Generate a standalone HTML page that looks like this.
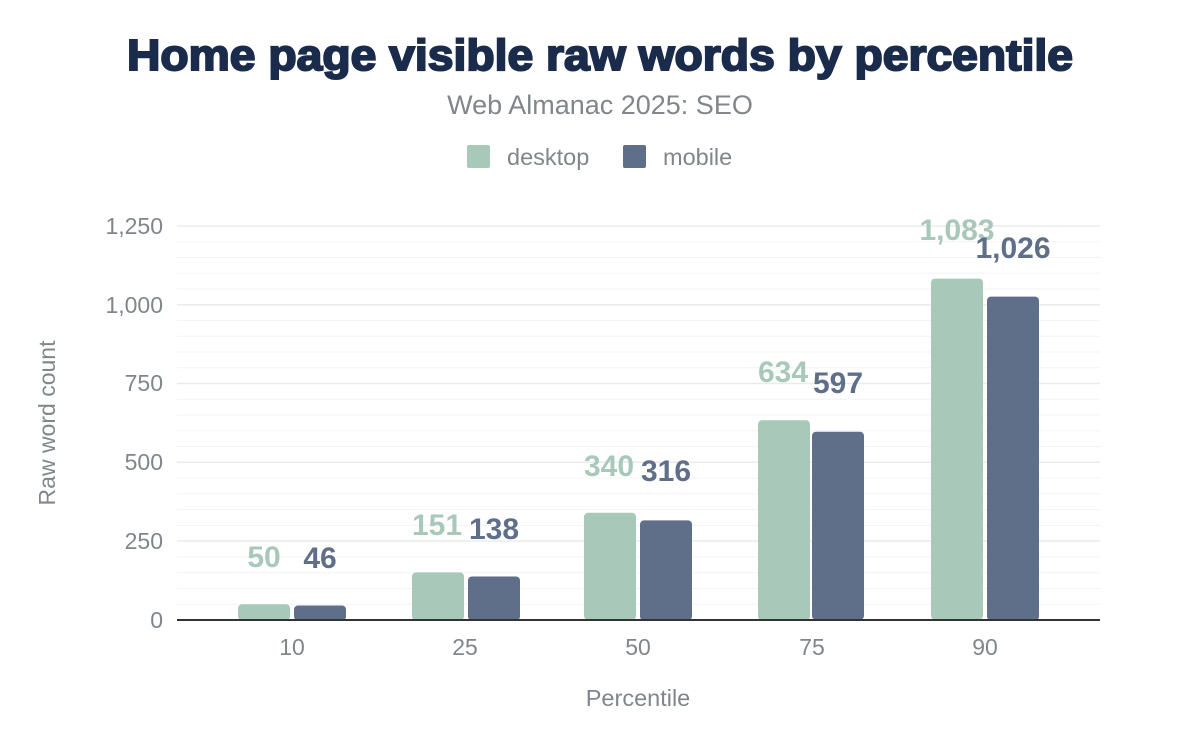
<!DOCTYPE html>
<html><head><meta charset="utf-8"><style>
html,body{margin:0;padding:0;background:#fff;}
svg{display:block;font-family:"Liberation Sans",Arial,sans-serif;}
</style></head><body>
<svg width="1200" height="742" viewBox="0 0 1200 742" xmlns="http://www.w3.org/2000/svg">
<rect width="1200" height="742" fill="#fff"/>
<text x="127" y="70" textLength="946" lengthAdjust="spacingAndGlyphs" font-size="44" font-weight="bold" fill="#1a2b4b" stroke="#1a2b4b" stroke-width="2">Home page visible raw words by percentile</text>
<text x="600" y="114" text-anchor="middle" font-size="27" fill="#80868b">Web Almanac 2025: SEO</text>
<rect x="467" y="145" width="23" height="23" rx="2" fill="#a8c9b9"/>
<text x="507" y="165" font-size="23.5" fill="#80868b">desktop</text>
<rect x="623" y="145" width="23" height="23" rx="2" fill="#5f6f8a"/>
<text x="663" y="165" font-size="23.5" fill="#80868b">mobile</text>
<g stroke="#f3f3f3" stroke-width="1">
<line x1="177" x2="1100" y1="604.2" y2="604.2"/><line x1="177" x2="1100" y1="588.5" y2="588.5"/><line x1="177" x2="1100" y1="572.7" y2="572.7"/><line x1="177" x2="1100" y1="556.9" y2="556.9"/>
<line x1="177" x2="1100" y1="525.4" y2="525.4"/><line x1="177" x2="1100" y1="509.6" y2="509.6"/><line x1="177" x2="1100" y1="493.9" y2="493.9"/><line x1="177" x2="1100" y1="478.1" y2="478.1"/>
<line x1="177" x2="1100" y1="446.6" y2="446.6"/><line x1="177" x2="1100" y1="430.8" y2="430.8"/><line x1="177" x2="1100" y1="415.0" y2="415.0"/><line x1="177" x2="1100" y1="399.3" y2="399.3"/>
<line x1="177" x2="1100" y1="367.8" y2="367.8"/><line x1="177" x2="1100" y1="352.0" y2="352.0"/><line x1="177" x2="1100" y1="336.2" y2="336.2"/><line x1="177" x2="1100" y1="320.5" y2="320.5"/>
<line x1="177" x2="1100" y1="288.9" y2="288.9"/><line x1="177" x2="1100" y1="273.2" y2="273.2"/><line x1="177" x2="1100" y1="257.4" y2="257.4"/><line x1="177" x2="1100" y1="241.7" y2="241.7"/>
</g>
<g stroke="#ebebeb" stroke-width="1.5">
<line x1="177" x2="1100" y1="541" y2="541"/><line x1="177" x2="1100" y1="462.3" y2="462.3"/><line x1="177" x2="1100" y1="383.5" y2="383.5"/><line x1="177" x2="1100" y1="304.7" y2="304.7"/><line x1="177" x2="1100" y1="226" y2="226"/>
</g>
<g font-size="23" fill="#80868b" text-anchor="end">
<text x="163" y="628">0</text><text x="163" y="549">250</text><text x="163" y="470">500</text><text x="163" y="391">750</text><text x="163" y="313">1,000</text><text x="163" y="234">1,250</text>
</g>
<text transform="translate(55,423) rotate(-90)" text-anchor="middle" font-size="23" fill="#80868b">Raw word count</text>
<g fill="#a8c9b9">
<rect x="238" y="604.2" width="52" height="16" rx="4"/>
<rect x="412" y="572.4" width="52" height="48" rx="4"/>
<rect x="584" y="512.8" width="52" height="107" rx="4"/>
<rect x="758" y="420.2" width="52" height="200" rx="4"/>
<rect x="931" y="278.6" width="52" height="341" rx="4"/>
</g>
<g fill="#5f6f8a">
<rect x="294" y="605.5" width="52" height="15" rx="4"/>
<rect x="468" y="576.5" width="52" height="44" rx="4"/>
<rect x="640" y="520.4" width="52" height="100" rx="4"/>
<rect x="812" y="431.8" width="52" height="188" rx="4"/>
<rect x="987" y="296.6" width="52" height="324" rx="4"/>
</g>
<line x1="177" x2="1100" y1="620" y2="620" stroke="#333" stroke-width="2"/>
<g font-size="30" font-weight="bold" text-anchor="middle" fill="#a8c9b9">
<text x="264" y="567">50</text><text x="437" y="535">151</text><text x="609" y="476">340</text><text x="783" y="382">634</text><text x="957" y="240">1,083</text>
</g>
<g font-size="30" font-weight="bold" text-anchor="middle" fill="#5f6f8a">
<text x="320" y="568">46</text><text x="494" y="539">138</text><text x="666" y="481">316</text><text x="838" y="393">597</text><text x="1013" y="258">1,026</text>
</g>
<g font-size="23" fill="#80868b" text-anchor="middle">
<text x="292" y="655">10</text><text x="465" y="655">25</text><text x="638" y="655">50</text><text x="812" y="655">75</text><text x="985" y="655">90</text>
</g>
<text x="638" y="706" text-anchor="middle" font-size="23.5" fill="#80868b">Percentile</text>
</svg>
</body></html>
